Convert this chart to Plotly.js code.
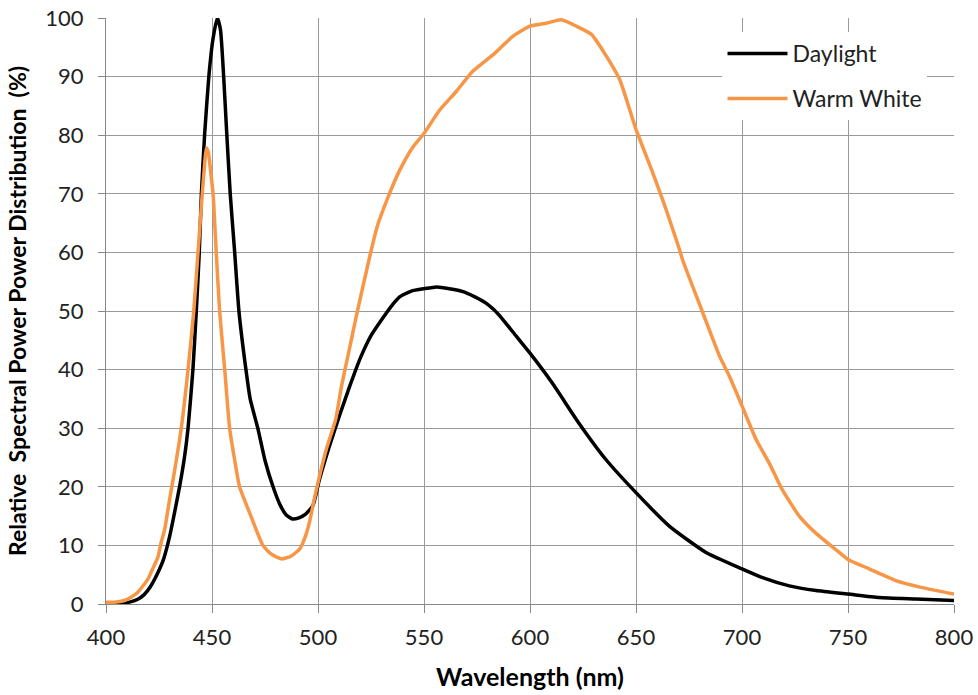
<!DOCTYPE html>
<html>
<head>
<meta charset="utf-8">
<script src="https://cdn.plot.ly/plotly-3.0.1.min.js"></script>
<style>html,body{margin:0;padding:0;background:#fff;}#chart{width:978px;height:695px;}</style>
</head>
<body>
<div id="chart"></div>
<script>
// Daylight spectrum (wavelength nm, relative %)
var daylightWl = [400,405,408,412,415,418,421,424,427,430,432,434.7,437,438.7,441,442.6,444,445,446.5,448.5,450.5,452.5,454,455.5,457,458.6,460.7,462.7,466,468,471.6,475,478.8,482,485,488,491,494,497.6,500.5,505,510,514.8,520,525,530,535,538.5,544,550,556,562,568.4,574,579.4,583,587.3,593.5,600,610.5,623,635.7,650,665.7,683,700,709.7,722.3,735,750,764.6,782,800];
var daylightVal = [0,0,0.1,0.4,0.8,1.6,3,5,7.5,11.5,15,20,25,30,40,50,60,70,80,90,96.5,100,98,90,80,70,60,50,40,35,30,24.5,20,17,15.2,14.5,14.7,15.3,16.8,21,26.5,32,37,42,45.8,48.5,51,52.4,53.4,53.8,54.1,53.8,53.3,52.4,51.3,50.2,48.5,45.7,42.8,37.7,30.9,24.7,19,13.3,8.8,6,4.5,3.1,2.3,1.7,1.1,0.85,0.6];

// Warm White spectrum
var warmWl = [400,404,408.7,412,415,419.7,422,424.5,426,427.6,430.3,432,435.5,438.7,441.4,443.4,445.4,446.5,447.3,448.3,449.3,450.5,452,453.6,456,458.3,460.5,463,467.8,474,478,482.7,487,491.4,494,496,498,500.5,504,508.4,511,514.8,518,524.4,528,533,538.5,544.8,550,557.4,565.3,573,582.5,592,600,607.7,614.8,621.9,629,636,642.3,650,658,664.3,670.5,672,681.5,689.4,694,700,706.6,712.9,719,727,734.8,744.2,750,760,772.5,785,800];
var warmVal = [0.3,0.3,0.6,1.2,2,4.2,6,8,10.5,12.6,18.5,22,30,40,50,60,70,75,77.8,77,74,70,60,50,40,30,25,20,15.5,10,8.5,7.7,8.1,9.4,11.5,14,17.5,21.5,26.5,31.6,37,43.5,49,59.3,64.5,69.4,74,78,80.3,84.3,87.5,90.9,93.7,96.9,98.6,99.1,99.7,98.6,97.2,93.5,89.5,81,73.5,67.2,60.5,58.7,49.7,42.3,38.9,33.8,28.1,24,19.5,15,12.1,9.3,7.6,6,4,2.8,1.7];

var seriesNames = ["Daylight", "Warm White"];
var xTitle = "Wavelength (nm)";
var yTitle = "Relative\u00A0\u00A0Spectral Power Power Distribution\u00A0\u00A0(%)";

var fontFam = "Lato, 'Open Sans', sans-serif";

var traces = [
  {x: daylightWl, y: daylightVal, name: seriesNames[0], type: 'scatter', mode: 'lines',
   line: {color: '#000000', width: 3.5, shape: 'spline', smoothing: 0.5}, legendgroup: 'a'},
  {x: warmWl, y: warmVal, name: seriesNames[1], type: 'scatter', mode: 'lines',
   line: {color: '#F79646', width: 3.5, shape: 'spline', smoothing: 0.5}, legendgroup: 'b'}
];

var layout = {
  width: 978, height: 695,
  margin: {l: 106, r: 24, t: 18, b: 91},
  paper_bgcolor: '#ffffff', plot_bgcolor: '#ffffff',
  showlegend: true,
  legend: {
    x: 0.727, y: 0.976, xanchor: 'left', yanchor: 'top',
    bgcolor: '#ffffff', borderwidth: 0,
    font: {family: fontFam, size: 23, color: '#222'},
    tracegroupgap: 12, itemwidth: 60, entrywidth: 225
  },
  xaxis: {
    range: [400, 800], dtick: 50, tick0: 400,
    showgrid: true, gridcolor: '#9a9a9a', gridwidth: 1,
    showline: true, linecolor: '#888', linewidth: 1,
    ticks: 'outside', ticklen: 8, tickcolor: '#888',
    ticklabelstandoff: 6,
    tickfont: {family: fontFam, size: 22, color: '#222'},
    zeroline: false, fixedrange: true,
    title: {text: xTitle, font: {family: fontFam, size: 25, color: '#000', weight: 'bold'}, standoff: 19}
  },
  yaxis: {
    range: [0, 100], dtick: 10, tick0: 0,
    showgrid: true, gridcolor: '#9a9a9a', gridwidth: 1,
    showline: true, linecolor: '#888', linewidth: 1,
    ticks: 'outside', ticklen: 7, tickcolor: '#888',
    ticklabelstandoff: 10,
    tickfont: {family: fontFam, size: 22, color: '#222'},
    zeroline: false, fixedrange: true,
    title: {text: yTitle, font: {family: fontFam, size: 23, color: '#000', weight: 'bold'}, standoff: 12}
  }
};

Plotly.newPlot('chart', traces, layout, {displayModeBar: false, staticPlot: true});
</script>
</body>
</html>
